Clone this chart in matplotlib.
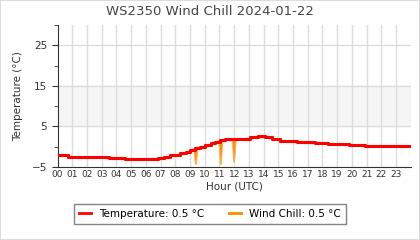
import matplotlib
matplotlib.use("Agg")
import matplotlib.pyplot as plt
from matplotlib.patches import Rectangle

# temperature steps (hour the step starts, value in degC)
temp_hours = [0, 0.72, 3.5, 4.55, 6.8, 7.2, 7.65, 8.0, 8.3, 8.7, 9.0, 9.35, 9.7,
              10.0, 10.4, 10.7, 11.05, 11.4, 12.6, 13.1, 13.65, 14.1, 14.6, 15.1,
              16.3, 17.5, 18.4, 19.8, 20.9, 24.0]
temp_vals = [-2.1, -2.45, -2.7, -2.95, -2.7, -2.45, -2.15, -2.0, -1.6, -1.3, -0.8,
             -0.4, 0.0, 0.4, 0.85, 1.25, 1.65, 1.8, 2.0, 2.3, 2.65, 2.3, 2.0, 1.5,
             1.2, 0.85, 0.6, 0.35, 0.25, 0.25]

# wind chill dips below the temperature
dip_hours = [9.4, 11.1, 12.0]
dip_base = [-0.4, 1.65, 1.8]
dip_vals = [-4.3, -4.3, -3.7]

hour_labels = ["%02d" % h for h in range(24)]

fig = plt.figure(figsize=(4.2, 2.4), dpi=100)
ax = fig.add_axes([0.137, 0.304, 0.841, 0.592])

ax.axhspan(5, 15, color="#f5f5f5", zorder=0)
for h in range(1, 24):
    ax.axvline(h, color="#dddddd", lw=1, zorder=1)
for v in [5, 15, 25]:
    ax.axhline(v, color="#dddddd", lw=1, zorder=1)

# wind chill (mostly hidden under temperature)
ax.step(temp_hours, temp_vals, where="post", color="#ff8c00", lw=2.2, zorder=2)
for h, b, v in zip(dip_hours, dip_base, dip_vals):
    ax.fill([h - 0.13, h - 0.03, h + 0.03, h + 0.13], [b, v, v, b], color="#ff8c00",
            lw=0.8, edgecolor="#ffb050", zorder=2)
ax.step(temp_hours, temp_vals, where="post", color="#ff0000", lw=2.2, zorder=3)

ax.set_xlim(0, 24)
ax.set_ylim(-5, 30)
ax.set_xticks(range(24))
ax.set_xticklabels(hour_labels)
ax.set_yticks([-5, 5, 15, 25])
ax.set_yticks([0, 10, 20, 30], minor=True)
ax.tick_params(axis="x", labelsize=6.5, colors="#333333", length=0, pad=2)
ax.tick_params(axis="y", labelsize=7.5, colors="#333333", length=4)
ax.tick_params(axis="y", which="minor", length=3, colors="#333333")
for s in ["top", "right"]:
    ax.spines[s].set_visible(False)
for s in ["left", "bottom"]:
    ax.spines[s].set_color("#333333")

ax.set_xlabel("Hour (UTC)", fontsize=7.5, color="#333333", labelpad=2)
ax.set_ylabel("Temperature (°C)", fontsize=7.5, color="#333333", labelpad=6)
fig.text(0.5, 0.953, "WS2350 Wind Chill 2024-01-22", ha="center", va="center",
         fontsize=9.5, color="#444444")

ax.plot([], [], color="#ff0000", lw=2, label="Temperature: 0.5 °C")
ax.plot([], [], color="#ff8c00", lw=2, label="Wind Chill: 0.5 °C")
handles, labels = ax.get_legend_handles_labels()
leg = fig.legend(handles, labels, loc="center", bbox_to_anchor=(0.5, 0.108), ncol=2,
                 fontsize=7.5, frameon=True, fancybox=False, edgecolor="#666666",
                 handlelength=1.1, columnspacing=2.4, borderpad=0.5)
leg.get_frame().set_linewidth(1)

fig.patches.append(Rectangle((0, 0), 1, 1, transform=fig.transFigure, fill=False,
                             edgecolor="#dddddd", lw=1.5))

fig.savefig("out.png", dpi=100)
